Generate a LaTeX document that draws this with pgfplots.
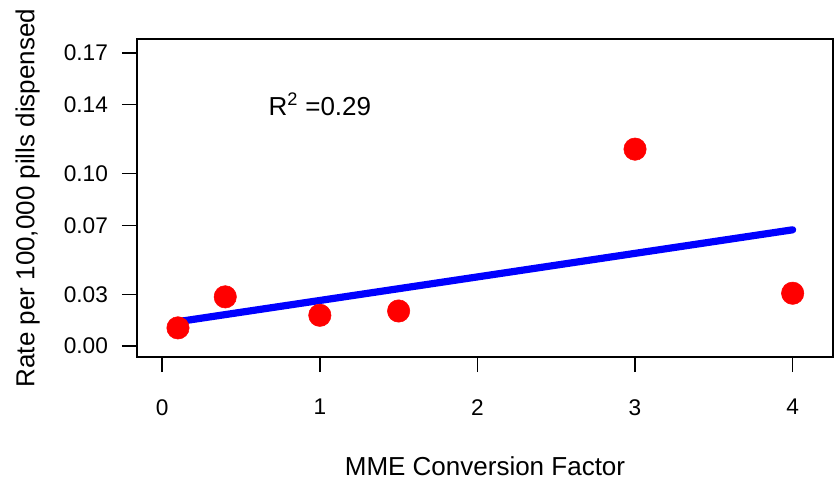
\documentclass[border=0pt]{standalone}
\usepackage{fontspec}
\setmainfont{Liberation Sans}
\usepackage{pgfplots}
\pgfplotsset{compat=1.18}
\begin{document}
\begin{tikzpicture}
\begin{axis}[
  at={(0,0)}, anchor=south west,
  scale only axis,
  width=522pt, height=238.5pt,
  xmin=-0.16, xmax=4.256,
  ymin=-0.0064, ymax=0.1781,
  axis line style={line width=1.1pt},
  every tick/.style={black, line width=1.1pt},
  tick align=outside,
  major tick length=11.25pt,
  xtick pos=bottom, ytick pos=left,
  xtick={0,1,2,3,4},
  ytick={0,0.03,0.07,0.10,0.14,0.17},
  yticklabels={0.00,0.03,0.07,0.10,0.14,0.17},
  /pgf/number format/assume math mode=true,
  tick label style={font=\fontsize{17}{20}\selectfont},
  xticklabel style={yshift=-17pt},
  yticklabel style={xshift=-7pt},
  xlabel={MME Conversion Factor},
  ylabel={Rate per 100,000 pills dispensed},
  label style={font=\fontsize{19.5}{23}\selectfont},
  xlabel style={at={(axis description cs:0.5,-0.343)}, anchor=center},
  ylabel style={at={(axis description cs:-0.157,0.5)}, anchor=center},
  clip=false,
]
\addplot[only marks, mark=*, mark size=8.4pt, color={rgb,255:red,255;green,0;blue,0}, mark options={draw=none, fill={rgb,255:red,255;green,0;blue,0}}] coordinates {
  (0.1,0.0105) (0.4,0.0285) (1.0,0.0178) (1.5,0.0203) (3.0,0.1142) (4.0,0.0306)
};
\addplot[no marks, color={rgb,255:red,0;green,0;blue,255}, line width=5.4pt, line cap=round] coordinates {
  (0.1,0.0141) (4.0,0.0674)
};
\node[font=\fontsize{19.5}{23}\selectfont, anchor=center] at (axis cs:1,0.1405) {R\textsuperscript{2} =0.29};
\end{axis}
\pgfresetboundingbox
\useasboundingbox (-102.75pt,-94.5pt) rectangle (527.25pt,267.75pt);
\end{tikzpicture}
\end{document}
